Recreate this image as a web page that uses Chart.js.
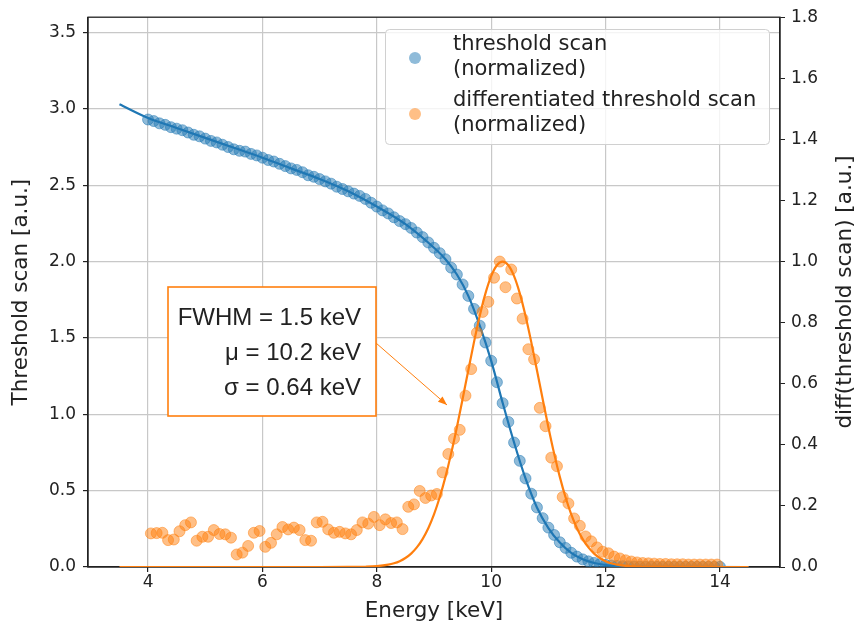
<!DOCTYPE html>
<html lang="en">
<head>
<meta charset="UTF-8">
<title>Threshold scan</title>
<script src="https://cdn.jsdelivr.net/npm/chart.js@4"></script>
<style>
  html, body { margin: 0; padding: 0; background: #fff; }
  #wrap { width: 858px; height: 633px; }
</style>
</head>
<body>
<div id="wrap"><canvas id="scanChart" width="858" height="633"></canvas></div>
<script>
// measured threshold scan (left axis)
const energy = [
  4.0, 4.1, 4.2, 4.3, 4.4, 4.5, 4.6, 4.7, 4.8, 4.9,
  5.0, 5.1, 5.2, 5.3, 5.4, 5.5, 5.6, 5.7, 5.8, 5.9,
  6.0, 6.1, 6.2, 6.3, 6.4, 6.5, 6.6, 6.7, 6.8, 6.9,
  7.0, 7.1, 7.2, 7.3, 7.4, 7.5, 7.6, 7.7, 7.8, 7.9,
  8.0, 8.1, 8.2, 8.3, 8.4, 8.5, 8.6, 8.7, 8.8, 8.9,
  9.0, 9.1, 9.2, 9.3, 9.4, 9.5, 9.6, 9.7, 9.8, 9.9,
  10.0, 10.1, 10.2, 10.3, 10.4, 10.5, 10.6, 10.7, 10.8, 10.9,
  11.0, 11.1, 11.2, 11.3, 11.4, 11.5, 11.6, 11.7, 11.8, 11.9,
  12.0, 12.1, 12.2, 12.3, 12.4, 12.5, 12.6, 12.7, 12.8, 12.9,
  13.0, 13.1, 13.2, 13.3, 13.4, 13.5, 13.6, 13.7, 13.8, 13.9,
  14.0
];
const thresholdScan = [
  2.93, 2.92, 2.905, 2.895, 2.88, 2.87, 2.86, 2.845, 2.83, 2.82,
  2.805, 2.79, 2.78, 2.765, 2.75, 2.735, 2.725, 2.72, 2.705, 2.695,
  2.68, 2.665, 2.655, 2.64, 2.625, 2.61, 2.60, 2.585, 2.565, 2.555,
  2.54, 2.525, 2.51, 2.49, 2.475, 2.46, 2.445, 2.43, 2.41, 2.385,
  2.36, 2.335, 2.315, 2.29, 2.265, 2.245, 2.22, 2.19, 2.16, 2.125,
  2.09, 2.055, 2.015, 1.96, 1.915, 1.85, 1.775, 1.69, 1.58, 1.47,
  1.35, 1.21, 1.073, 0.95, 0.815, 0.695, 0.58, 0.48, 0.39, 0.32,
  0.258, 0.21, 0.162, 0.125, 0.093, 0.068, 0.05, 0.037, 0.027, 0.019,
  0.014, 0.01, 0.007, 0.005, 0.004, 0.003, 0.002, 0.002, 0.002, 0.001,
  0.001, 0.001, 0.001, 0.001, 0.001, 0.001, 0.001, 0.001, 0.001, 0.001,
  0.001
];

// differentiated scan (right axis), at bin centres
const diffEnergy = [
  4.05, 4.15, 4.25, 4.35, 4.45, 4.55, 4.65, 4.75, 4.85, 4.95,
  5.05, 5.15, 5.25, 5.35, 5.45, 5.55, 5.65, 5.75, 5.85, 5.95,
  6.05, 6.15, 6.25, 6.35, 6.45, 6.55, 6.65, 6.75, 6.85, 6.95,
  7.05, 7.15, 7.25, 7.35, 7.45, 7.55, 7.65, 7.75, 7.85, 7.95,
  8.05, 8.15, 8.25, 8.35, 8.45, 8.55, 8.65, 8.75, 8.85, 8.95,
  9.05, 9.15, 9.25, 9.35, 9.45, 9.55, 9.65, 9.75, 9.85, 9.95,
  10.05, 10.15, 10.25, 10.35, 10.45, 10.55, 10.65, 10.75, 10.85, 10.95,
  11.05, 11.15, 11.25, 11.35, 11.45, 11.55, 11.65, 11.75, 11.85, 11.95,
  12.05, 12.15, 12.25, 12.35, 12.45, 12.55, 12.65, 12.75, 12.85, 12.95,
  13.05, 13.15, 13.25, 13.35, 13.45, 13.55, 13.65, 13.75, 13.85, 13.95
];
const diffScan = [
  0.110, 0.111, 0.112, 0.088, 0.090, 0.117, 0.137, 0.146, 0.086, 0.099,
  0.099, 0.121, 0.108, 0.107, 0.096, 0.041, 0.047, 0.069, 0.112, 0.118,
  0.066, 0.079, 0.107, 0.131, 0.123, 0.129, 0.121, 0.088, 0.086, 0.146,
  0.148, 0.123, 0.112, 0.115, 0.110, 0.107, 0.121, 0.146, 0.142, 0.164,
  0.137, 0.156, 0.144, 0.146, 0.124, 0.197, 0.205, 0.249, 0.226, 0.234,
  0.239, 0.310, 0.370, 0.420, 0.449, 0.561, 0.648, 0.767, 0.835, 0.868,
  0.947, 1.000, 0.916, 0.974, 0.879, 0.813, 0.713, 0.680, 0.521, 0.461,
  0.358, 0.330, 0.229, 0.208, 0.159, 0.135, 0.100, 0.084, 0.064, 0.050,
  0.045, 0.034, 0.028, 0.022, 0.018, 0.015, 0.013, 0.012, 0.011, 0.010,
  0.010, 0.009, 0.009, 0.009, 0.008, 0.008, 0.008, 0.008, 0.008, 0.008
];

// fitted curves
const fitEnergy = [3.5, 4.0, 4.5, 5.0, 5.5, 6.0, 6.5, 7.0, 7.5, 8.0, 8.5, 9.0, 9.2, 9.4, 9.6, 9.8,
  10.0, 10.2, 10.4, 10.6, 10.8, 11.0, 11.2, 11.4, 11.6, 11.8, 12.0, 12.4, 13.0, 14.5];
const fitThreshold = [3.03, 2.94, 2.875, 2.81, 2.745, 2.68, 2.61, 2.54, 2.46, 2.36, 2.245, 2.09, 2.015, 1.915, 1.775, 1.58,
  1.35, 1.075, 0.815, 0.58, 0.39, 0.255, 0.16, 0.092, 0.05, 0.026, 0.013, 0.003, 0.0005, 0];

const gaussEnergy = [3.5, 7.0, 7.5, 7.8, 8.0, 8.2, 8.3, 8.4, 8.5, 8.6, 8.7, 8.8, 8.9, 9.0, 9.1, 9.2, 9.3, 9.4, 9.5, 9.6,
  9.7, 9.8, 9.9, 10.0, 10.1, 10.2, 10.3, 10.4, 10.5, 10.6, 10.7, 10.8, 10.9, 11.0, 11.1, 11.2, 11.3,
  11.4, 11.5, 11.6, 11.7, 11.8, 11.9, 12.0, 12.1, 12.2, 12.4, 12.6, 12.9, 13.5, 14.5];
const gaussFit = [0, 0, 0.0001, 0.0009, 0.0027, 0.0076, 0.0122, 0.0192, 0.0294, 0.0439, 0.0641, 0.0914, 0.1271, 0.1724,
  0.2283, 0.2950, 0.3720, 0.4578, 0.5499, 0.6444, 0.7370, 0.8226, 0.8960, 0.9523, 0.9879, 1.0,
  0.9879, 0.9523, 0.8960, 0.8226, 0.7370, 0.6444, 0.5499, 0.4578, 0.3720, 0.2950, 0.2283, 0.1724,
  0.1271, 0.0914, 0.0641, 0.0439, 0.0294, 0.0192, 0.0122, 0.0076, 0.0027, 0.0009, 0.0001, 0, 0];

const xTicks = [4, 6, 8, 10, 12, 14];
const leftTicks = [0, 0.5, 1.0, 1.5, 2.0, 2.5, 3.0, 3.5];
const rightTicks = [0, 0.2, 0.4, 0.6, 0.8, 1.0, 1.2, 1.4, 1.6, 1.8];

const legendItems = [
  { lines: ['threshold scan', '(normalized)'], color: 'rgba(31,119,180,0.5)' },
  { lines: ['differentiated threshold scan', '(normalized)'], color: 'rgba(255,127,14,0.5)' }
];
const fitText = ['FWHM = 1.5 keV', 'μ = 10.2 keV', 'σ = 0.64 keV'];

const BLUE = '#1f77b4';
const ORANGE = '#ff7f0e';
const INK = '#222222';
const FONT = 'DejaVu Sans';

function pairs(xs, ys) {
  return xs.map((x, i) => ({ x: x, y: ys[i] }));
}

const framePlugin = {
  id: 'frame',
  beforeDatasetsDraw(chart) {
    const a = chart.chartArea;
    const ctx = chart.ctx;
    ctx.save();
    ctx.strokeStyle = INK;
    ctx.lineWidth = 1.3;
    ctx.strokeRect(a.left, a.top, a.right - a.left, a.bottom - a.top);
    ctx.restore();
  }
};

const overlayPlugin = {
  id: 'overlay',
  afterDraw(chart) {
    const ctx = chart.ctx;
    ctx.save();

    // right axis title, reading bottom to top
    ctx.translate(845, 292);
    ctx.rotate(-Math.PI / 2);
    ctx.fillStyle = INK;
    ctx.font = '21.5px "' + FONT + '"';
    ctx.textAlign = 'center';
    ctx.textBaseline = 'middle';
    ctx.fillText('diff(threshold scan) [a.u.]', 0, 0);
    ctx.setTransform(1, 0, 0, 1, 0, 0);

    // legend box
    ctx.beginPath();
    ctx.roundRect(385.5, 29.5, 384, 115, 4);
    ctx.fillStyle = 'rgba(255,255,255,0.8)';
    ctx.fill();
    ctx.strokeStyle = '#d0d0d0';
    ctx.lineWidth = 1;
    ctx.stroke();
    ctx.font = '21px "' + FONT + '"';
    ctx.textAlign = 'left';
    ctx.textBaseline = 'middle';
    legendItems.forEach((item, i) => {
      const y0 = 45 + i * 56;
      ctx.beginPath();
      ctx.arc(415, y0 + 13, 6, 0, Math.PI * 2);
      ctx.fillStyle = item.color;
      ctx.fill();
      ctx.fillStyle = INK;
      item.lines.forEach((t, j) => ctx.fillText(t, 453, y0 + j * 25));
    });

    // annotation arrow
    ctx.strokeStyle = ORANGE;
    ctx.fillStyle = ORANGE;
    ctx.lineWidth = 1;
    const x0 = 376, y0 = 343, x1 = 447, y1 = 405;
    ctx.beginPath();
    ctx.moveTo(x0, y0);
    ctx.lineTo(x1, y1);
    ctx.stroke();
    const ang = Math.atan2(y1 - y0, x1 - x0);
    ctx.beginPath();
    ctx.moveTo(x1, y1);
    ctx.lineTo(x1 - 9 * Math.cos(ang) + 3.5 * Math.sin(ang), y1 - 9 * Math.sin(ang) - 3.5 * Math.cos(ang));
    ctx.lineTo(x1 - 9 * Math.cos(ang) - 3.5 * Math.sin(ang), y1 - 9 * Math.sin(ang) + 3.5 * Math.cos(ang));
    ctx.closePath();
    ctx.fill();

    // annotation box
    ctx.fillStyle = '#ffffff';
    ctx.fillRect(168, 287, 208, 129);
    ctx.lineWidth = 1.6;
    ctx.strokeRect(168, 287, 208, 129);
    ctx.fillStyle = INK;
    ctx.font = '24px "Liberation Sans"';
    ctx.textAlign = 'right';
    fitText.forEach((t, i) => ctx.fillText(t, 361, 318 + i * 35));

    ctx.restore();
  }
};

const ctx = document.getElementById('scanChart').getContext('2d');
new Chart(ctx, {
  type: 'scatter',
  data: {
    datasets: [
      {
        label: 'gaussian fit',
        type: 'line',
        data: pairs(gaussEnergy, gaussFit),
        yAxisID: 'y2',
        borderColor: ORANGE,
        borderWidth: 2.2,
        pointRadius: 0,
        cubicInterpolationMode: 'monotone',
        fill: false,
        order: 0
      },
      {
        label: 'differentiated threshold scan (normalized)',
        data: pairs(diffEnergy, diffScan),
        yAxisID: 'y2',
        backgroundColor: 'rgba(255,127,14,0.5)',
        borderColor: 'rgba(255,127,14,0.5)',
        borderWidth: 1,
        pointRadius: 5.5,
        order: 1
      },
      {
        label: 'fit',
        type: 'line',
        data: pairs(fitEnergy, fitThreshold),
        yAxisID: 'y',
        borderColor: BLUE,
        borderWidth: 2.2,
        pointRadius: 0,
        cubicInterpolationMode: 'monotone',
        fill: false,
        order: 2
      },
      {
        label: 'threshold scan (normalized)',
        data: pairs(energy, thresholdScan),
        yAxisID: 'y',
        backgroundColor: 'rgba(31,119,180,0.5)',
        borderColor: 'rgba(31,119,180,0.5)',
        borderWidth: 1,
        pointRadius: 5.5,
        order: 3
      }
    ]
  },
  options: {
    responsive: false,
    animation: false,
    devicePixelRatio: 1,
    layout: { padding: { top: 15, left: 0, right: 0, bottom: 0 } },
    plugins: {
      legend: { display: false },
      tooltip: { enabled: false }
    },
    scales: {
      x: {
        type: 'linear',
        position: 'bottom',
        min: 2.95,
        max: 15.05,
        afterBuildTicks: (axis) => { axis.ticks = xTicks.map(v => ({ value: v })); },
        afterFit: (axis) => { axis.height = 66; },
        grid: { color: '#c8c8c8', lineWidth: 1.2, tickColor: INK, tickLength: 5 },
        border: { color: INK, width: 1.3 },
        ticks: {
          color: INK,
          font: { family: FONT, size: 17 },
          padding: 0,
          maxRotation: 0,
          callback: (v) => String(v)
        },
        title: {
          display: true,
          text: 'Energy [keV]',
          color: INK,
          font: { family: FONT, size: 21.5 },
          padding: { top: 0, bottom: 9 }
        }
      },
      y: {
        type: 'linear',
        position: 'left',
        min: 0,
        max: 3.6,
        afterBuildTicks: (axis) => { axis.ticks = leftTicks.map(v => ({ value: v })); },
        afterFit: (axis) => { axis.width = 88; },
        grid: { color: '#c8c8c8', lineWidth: 1.2, tickColor: INK, tickLength: 5 },
        border: { color: INK, width: 1.3 },
        ticks: {
          color: INK,
          font: { family: FONT, size: 17 },
          padding: 7,
          callback: (v) => v.toFixed(1)
        },
        title: {
          display: true,
          text: 'Threshold scan [a.u.]',
          color: INK,
          font: { family: FONT, size: 21.5 },
          padding: { top: 9, bottom: 0 }
        }
      },
      y2: {
        type: 'linear',
        position: 'right',
        min: 0,
        max: 1.8,
        afterBuildTicks: (axis) => { axis.ticks = rightTicks.map(v => ({ value: v })); },
        afterFit: (axis) => { axis.width = 78; },
        grid: { drawOnChartArea: false, tickColor: INK, tickLength: 5 },
        border: { color: INK, width: 1.3 },
        ticks: {
          color: INK,
          font: { family: FONT, size: 17 },
          padding: 6,
          callback: (v) => v.toFixed(1)
        }
      }
    }
  },
  plugins: [framePlugin, overlayPlugin]
});
</script>
</body>
</html>
